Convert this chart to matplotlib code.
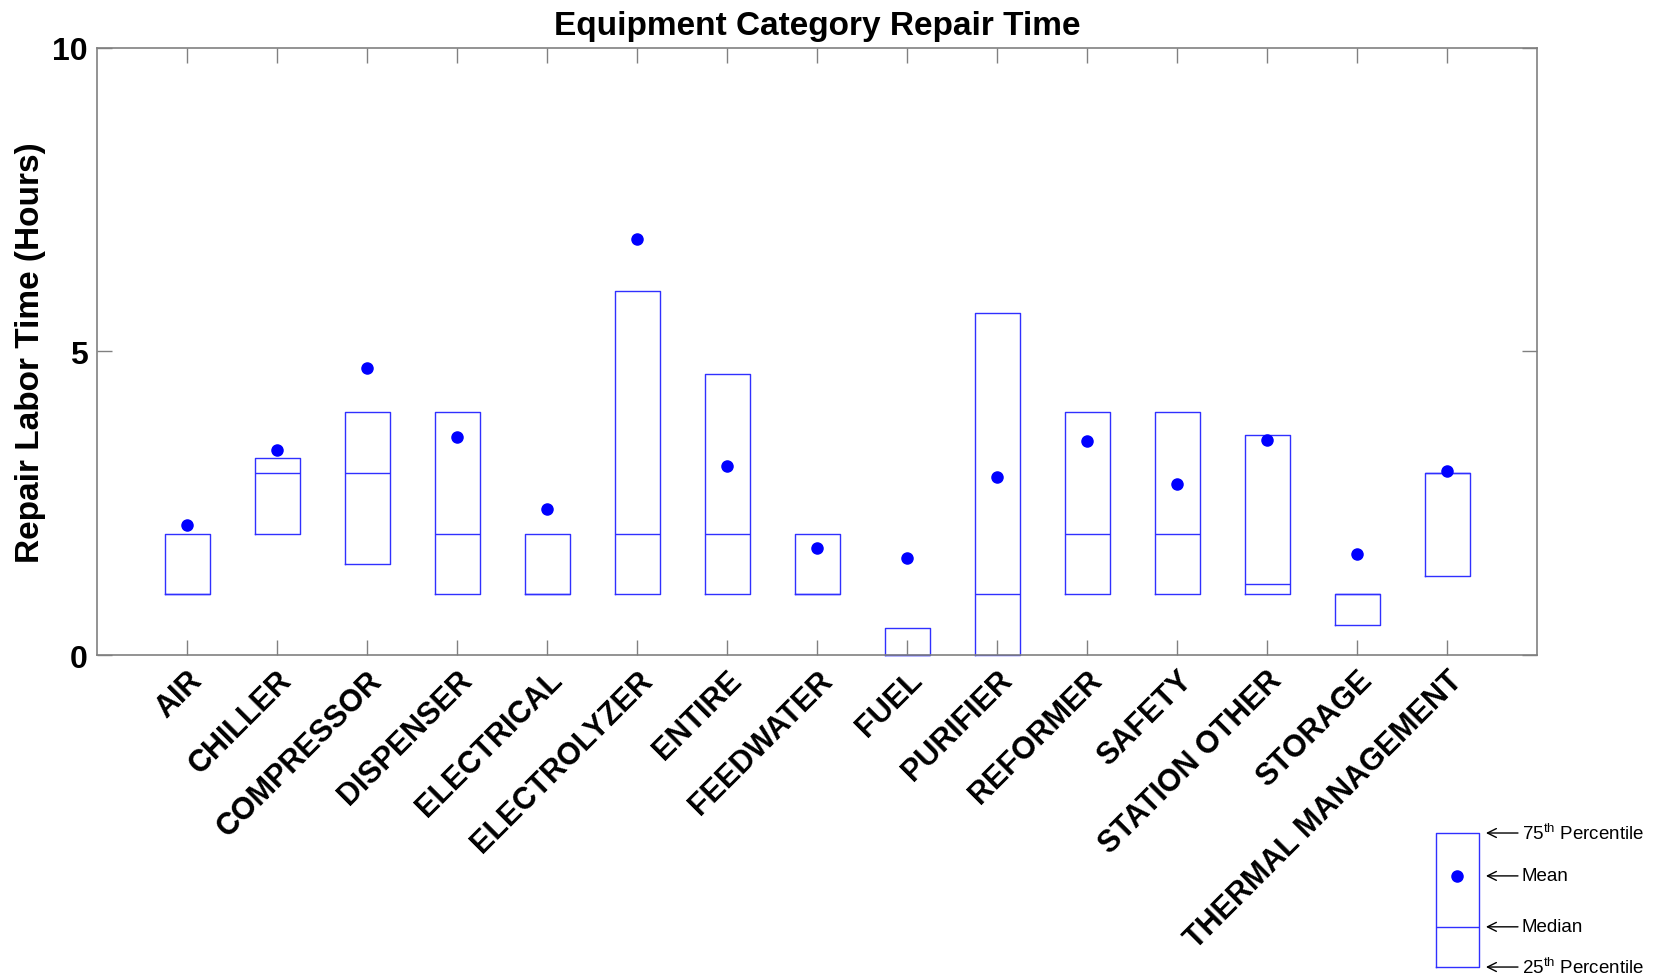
import numpy as np
import matplotlib
matplotlib.use("Agg")
import matplotlib.pyplot as plt

plt.rcParams['font.family'] = ['Liberation Sans', 'DejaVu Sans']
plt.rcParams['mathtext.fontset'] = 'custom'
plt.rcParams['mathtext.rm'] = 'Liberation Sans'

# Data (hours)
categories = ['AIR', 'CHILLER', 'COMPRESSOR', 'DISPENSER', 'ELECTRICAL',
              'ELECTROLYZER', 'ENTIRE', 'FEEDWATER', 'FUEL', 'PURIFIER',
              'REFORMER', 'SAFETY', 'STATION OTHER', 'STORAGE',
              'THERMAL MANAGEMENT']
q1 = [1.0, 2.0, 1.5, 1.0, 1.0, 1.0, 1.0, 1.0, 0.0, 0.0, 1.0, 1.0, 1.0, 0.5, 1.3]
median = [1.0, 3.0, 3.0, 2.0, 1.0, 2.0, 2.0, 1.0, 0.0, 1.0, 2.0, 2.0, 1.17, 1.0, 3.0]
q3 = [2.0, 3.25, 4.0, 4.0, 2.0, 6.0, 4.63, 2.0, 0.45, 5.63, 4.0, 4.0, 3.63, 1.0, 3.0]
mean = [2.14, 3.38, 4.72, 3.59, 2.4, 6.85, 3.12, 1.76, 1.6, 2.93, 3.52, 2.82, 3.54, 1.67, 3.03]

legend_labels = [r'75$^{\mathrm{th}}$ Percentile', 'Mean', 'Median',
                 r'25$^{\mathrm{th}}$ Percentile']

BLUE = '#0000ff'
BOXCOL = '#3030ff'
GREY = '#808080'


def draw_boxes(ax, stats, positions):
    art = ax.bxp(stats, positions=positions, widths=0.5, showcaps=False,
                 showfliers=False, showmeans=True, patch_artist=False,
                 boxprops=dict(color=BOXCOL, linewidth=1.0),
                 medianprops=dict(color=BOXCOL, linewidth=1.0),
                 whiskerprops=dict(linewidth=0),
                 meanprops=dict(marker='o', markerfacecolor=BLUE,
                                markeredgecolor=BLUE, markersize=8))
    for group in art.values():
        for a in group:
            a.set_clip_on(False)


fig = plt.figure(figsize=(16.59, 9.79), dpi=100)
ax = fig.add_axes([0.0585, 0.3299, 0.868, 0.6204])

stats = []
for name, a, m, b, mu in zip(categories, q1, median, q3, mean):
    stats.append(dict(label=name, q1=a, med=m, q3=b, whislo=a, whishi=b,
                      mean=mu, fliers=[]))
pos = np.arange(1, len(categories) + 1)
draw_boxes(ax, stats, pos)

ax.set_xlim(0, len(categories) + 1)
ax.set_ylim(0, 10)
ax.set_yticks([0, 5, 10])
ax.set_xticks(pos)
ax.set_xticklabels(categories, rotation=45, ha='right',
                   rotation_mode='anchor', fontsize=22, fontweight='bold')
ax.tick_params(axis='y', labelsize=23)
for lab in ax.get_yticklabels():
    lab.set_fontweight('bold')
ax.tick_params(direction='in', length=10.5, width=1, color=GREY,
               top=True, right=True, pad=7)
for s in ax.spines.values():
    s.set_color(GREY)
    s.set_linewidth(1.2)

ax.set_ylabel('Repair Labor Time (Hours)', fontsize=24, fontweight='bold',
              labelpad=4)
ax.set_title('Equipment Category Repair Time', fontsize=24,
             fontweight='bold', pad=10)

# schematic key in the lower right corner
lax = fig.add_axes([0.8654, 0.0112, 0.0261, 0.1369])
key = [dict(q1=0.0, med=0.30, q3=1.0, whislo=0.0, whishi=1.0,
            mean=0.68, fliers=[])]
draw_boxes(lax, key, [0.5])
lax.set_xlim(0.25, 0.75)
lax.set_ylim(0, 1)
lax.axis('off')
key_y = [1.0, 0.68, 0.30, 0.0]
for lab, yv in zip(legend_labels, key_y):
    lax.annotate('', xy=(1.16, yv), xytext=(1.90, yv),
                 xycoords=('axes fraction', 'data'),
                 textcoords=('axes fraction', 'data'),
                 arrowprops=dict(arrowstyle='->', color='black', lw=1,
                                 mutation_scale=16, shrinkA=0, shrinkB=0),
                 annotation_clip=False)
    lax.text(1.99, yv, lab, transform=lax.get_yaxis_transform(),
             fontsize=13.5, va='center', ha='left')

fig.savefig('out.png', dpi=100)
